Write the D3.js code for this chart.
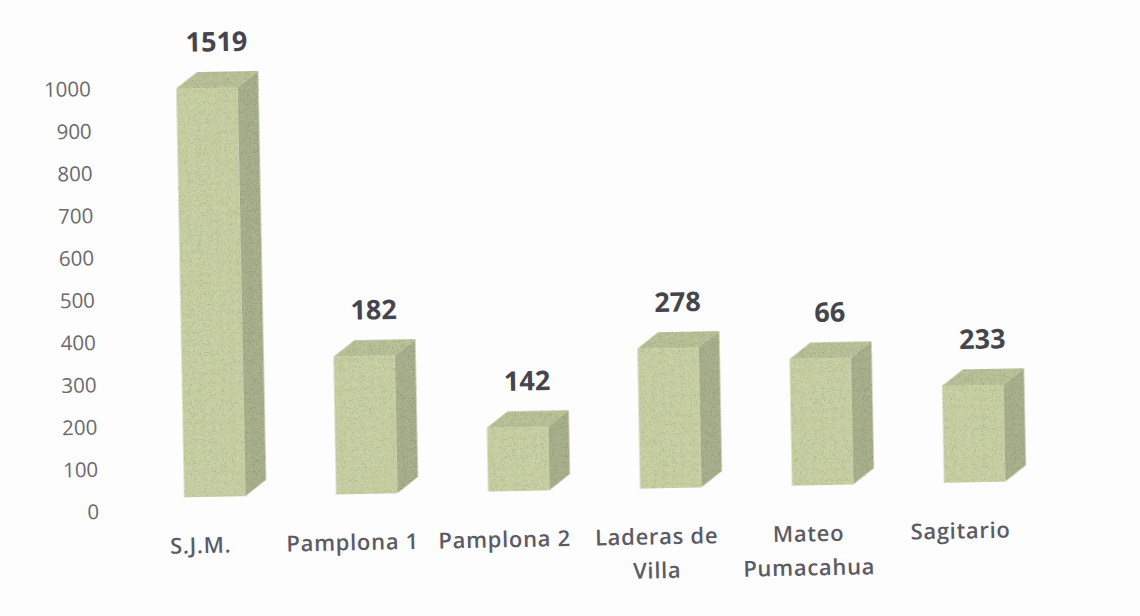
<!DOCTYPE html>
<html>
<head>
<meta charset="utf-8">
<script src="https://cdn.jsdelivr.net/npm/d3@7"></script>
<style>
  html, body { margin: 0; padding: 0; background: #ffffff; }
  svg { display: block; }
</style>
</head>
<body>
<svg id="chart" width="1140" height="616"></svg>
<script>
// ---- data ----
const categories = ["S.J.M.", "Pamplona 1", "Pamplona 2", "Laderas de Villa", "Mateo Pumacahua", "Sagitario"];
const categoryLines = [["S.J.M."], ["Pamplona 1"], ["Pamplona 2"], ["Laderas de", "Villa"], ["Mateo", "Pumacahua"], ["Sagitario"]];
const barValues = [1000, 337, 156, 342, 310, 237];
const valueLabels = ["1519", "182", "142", "278", "66", "233"];
const yTicks = [0, 100, 200, 300, 400, 500, 600, 700, 800, 900, 1000];

// ---- layout ----
const W = 1140, H = 616;
const svg = d3.select("#chart");

svg.append("rect").attr("width", W).attr("height", H).attr("fill", "#fdfdfd");

// noise filter to mimic scan texture
const defs = svg.append("defs");
const f = defs.append("filter").attr("id", "grain").attr("x", 0).attr("y", 0).attr("width", 1).attr("height", 1);
f.append("feTurbulence").attr("type", "fractalNoise").attr("baseFrequency", 1.1).attr("numOctaves", 2).attr("seed", 3).attr("result", "n");
f.append("feColorMatrix").attr("in", "n").attr("type", "matrix")
  .attr("values", "0 0 0 0 0  0 0 0 0 0  0 0 0 0 0  0 0 0 -1.2 0.6").attr("result", "na");
f.append("feComposite").attr("in", "na").attr("in2", "SourceGraphic").attr("operator", "in").attr("result", "nm");
f.append("feMerge").call(m => { m.append("feMergeNode").attr("in", "SourceGraphic"); m.append("feMergeNode").attr("in", "nm"); });

const g = svg.append("g").attr("transform", "rotate(-1.1, 100, 512)");

const axisY = d3.scaleLinear().domain([0, 1000]).range([512, 89]);
const barY = d3.scaleLinear().domain([0, 1000]).range([499, 90]);
const x = d3.scalePoint().domain(categories).range([215, 975]);
const bw = 61, dx = 21, dy = 16;

// y axis labels
const yAxis = d3.axisLeft(axisY).tickValues(yTicks).tickSize(0).tickPadding(0).tickFormat(d3.format("d"));
const ax = g.append("g").attr("transform", "translate(99,0)").call(yAxis);
ax.select(".domain").remove();
ax.selectAll("text")
  .attr("font-family", "'Open Sans', sans-serif")
  .attr("font-size", 20.5)
  .attr("fill", "#6a6a6a");

// bars
const bars = g.append("g").attr("filter", "url(#grain)");
categories.forEach((c, i) => {
  const cx = x(c);
  const x0 = cx - bw / 2, x1 = cx + bw / 2;
  const yb = barY(0), yt = barY(barValues[i]);
  const b = bars.append("g");
  // side
  b.append("path")
    .attr("d", `M${x1},${yt}L${x1 + dx},${yt - dy}L${x1 + dx},${yb - dy}L${x1},${yb}Z`)
    .attr("fill", "#a9b18d");
  // top
  b.append("path")
    .attr("d", `M${x0},${yt}L${x0 + dx},${yt - dy}L${x1 + dx},${yt - dy}L${x1},${yt}Z`)
    .attr("fill", "#b9c298");
  // front
  b.append("rect")
    .attr("x", x0).attr("y", yt).attr("width", bw).attr("height", yb - yt)
    .attr("fill", "#c9d2a4");
});

// value labels
g.append("g").selectAll("text")
  .data(categories)
  .join("text")
  .attr("x", c => x(c) + dx / 2)
  .attr("y", (c, i) => barY(barValues[i]) - dy - 31)
  .attr("text-anchor", "middle")
  .attr("dominant-baseline", "central")
  .attr("font-family", "'Open Sans', sans-serif")
  .attr("font-weight", 700)
  .attr("font-size", 27)
  .attr("fill", "#45454e")
  .text((c, i) => valueLabels[i]);

// category labels
const cl = g.append("g");
categories.forEach((c, i) => {
  const t = cl.append("text")
    .attr("x", x(c) - 15)
    .attr("y", 546)
    .attr("text-anchor", "middle")
    .attr("dominant-baseline", "central")
    .attr("font-family", "'Open Sans', sans-serif")
    .attr("font-weight", 600)
    .attr("font-size", 22)
    .attr("letter-spacing", 0.7)
    .attr("fill", "#5b5b66");
  categoryLines[i].forEach((line, j) => {
    t.append("tspan").attr("x", x(c) - 15).attr("dy", j === 0 ? 0 : 34).text(line);
  });
});
</script>
</body>
</html>
